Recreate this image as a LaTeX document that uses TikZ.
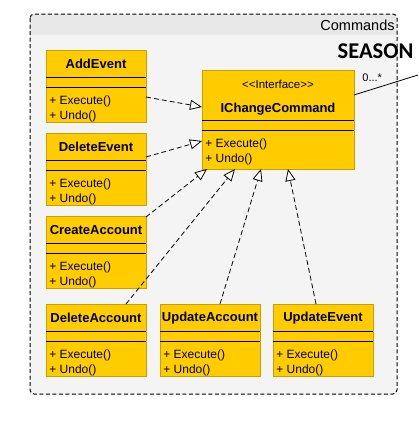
\documentclass[tikz,border=0pt]{standalone}
\usepackage{fontspec}
\setmainfont{Liberation Sans}
\newfontfamily\seasonfont{Carlito}
\usetikzlibrary{arrows.meta,positioning}

\definecolor{classfill}{HTML}{FFCC00}
\definecolor{classline}{HTML}{C8A000}
\definecolor{pkgfill}{HTML}{F4F4F4}
\definecolor{pkghead}{HTML}{E8E8E8}

\tikzset{
  classbox/.style={draw=classline, fill=classfill, minimum width=100pt, minimum height=72pt, inner sep=0pt, outer sep=0pt},
  classname/.style={font=\fontsize{13}{15}\selectfont\bfseries, inner sep=0pt},
  ops/.style={font=\fontsize{12}{15}\selectfont, align=left, inner sep=0pt},
  realize/.style={dash pattern=on 5pt off 3pt, -{Triangle[fill=white, length=12pt, width=10pt]}},
}

% one class box: name, x, y, title
\newcommand{\umlclass}[4]{%
  \node[classbox, anchor=north west] (#1) at (#2,#3) {};
  \node[classname] (#1-name) at ([yshift=-14pt]#1.north) {#4};
  \draw ([yshift=-27pt]#1.north west) -- ([yshift=-27pt]#1.north east)
        ([yshift=-37pt]#1.north west) -- ([yshift=-37pt]#1.north east);
  \node[ops, anchor=north west] (#1-ops) at ([xshift=3pt, yshift=-45pt]#1.north west) {+ Execute()\\+ Undo()};
}

\begin{document}
\begin{tikzpicture}[x=1pt, y=-1pt, line width=0.8pt]
  \useasboundingbox (0,0) rectangle (418,442);

  % package
  \begin{scope}
    \clip[rounded corners=4pt] (30,14) rectangle (397,394);
    \fill[pkgfill] (30,14) rectangle (397,394);
    \fill[pkghead] (30,14) rectangle (397,35);
  \end{scope}
  \draw[line width=1pt, dash pattern=on 4pt off 2.5pt, rounded corners=4pt] (30,14) rectangle (397,394);
  \node[anchor=east, font=\fontsize{14.5}{16}\selectfont, inner sep=0pt] (pkg) at (395,25) {Commands};

  % interface
  \node[classbox, minimum width=152pt, minimum height=99pt, anchor=north west] (iface) at (202,70) {};
  \node[font=\fontsize{11.5}{12}\selectfont, inner sep=0pt] (iface-st) at ([yshift=-14pt]iface.north) {<{}<Interface>{}>};
  \node[classname] (iface-name) at ([yshift=-39pt]iface.north) {IChangeCommand};
  \draw ([yshift=-50pt]iface.north west) -- ([yshift=-50pt]iface.north east)
        ([yshift=-60pt]iface.north west) -- ([yshift=-60pt]iface.north east);
  \node[ops, anchor=north west] (iface-ops) at ([xshift=3pt, yshift=-68pt]iface.north west) {+ Execute()\\+ Undo()};

  % commands
  \umlclass{add}{46}{50}{AddEvent}
  \umlclass{delev}{46}{133}{DeleteEvent}
  \umlclass{creacc}{46}{216}{CreateAccount}
  \umlclass{delacc}{46}{304}{DeleteAccount}
  \umlclass{updacc}{160}{304}{UpdateAccount}
  \umlclass{updev}{273}{304}{UpdateEvent}

  \draw[realize] ([yshift=-47pt]add.north east) -- ([yshift=-37pt]iface.north west);
  \draw[realize] ([yshift=-24pt]delev.north east) -- ([yshift=-71pt]iface.north west);
  \draw[realize] ([yshift=-1pt]creacc.north east) -- ([xshift=5pt]iface.south west);
  \draw[realize] ([xshift=80pt]delacc.north west) -- ([xshift=33pt]iface.south west);
  \draw[realize] ([xshift=60pt]updacc.north west) -- ([xshift=59pt]iface.south west);
  \draw[realize] ([xshift=43pt]updev.north west) -- ([xshift=86pt]iface.south west);

  % association to SEASON
  \coordinate (out) at (418,75);
  \draw ([yshift=-25pt]iface.north east) -- (out);
  \node[font=\fontsize{11}{12}\selectfont, inner sep=0pt, anchor=west] (mult) at (362,78) {0...*};
  \node[font=\seasonfont\fontsize{22.5}{24}\selectfont\bfseries, inner sep=0pt] (season) at (375.5,51) {SEASON};
\end{tikzpicture}
\end{document}
